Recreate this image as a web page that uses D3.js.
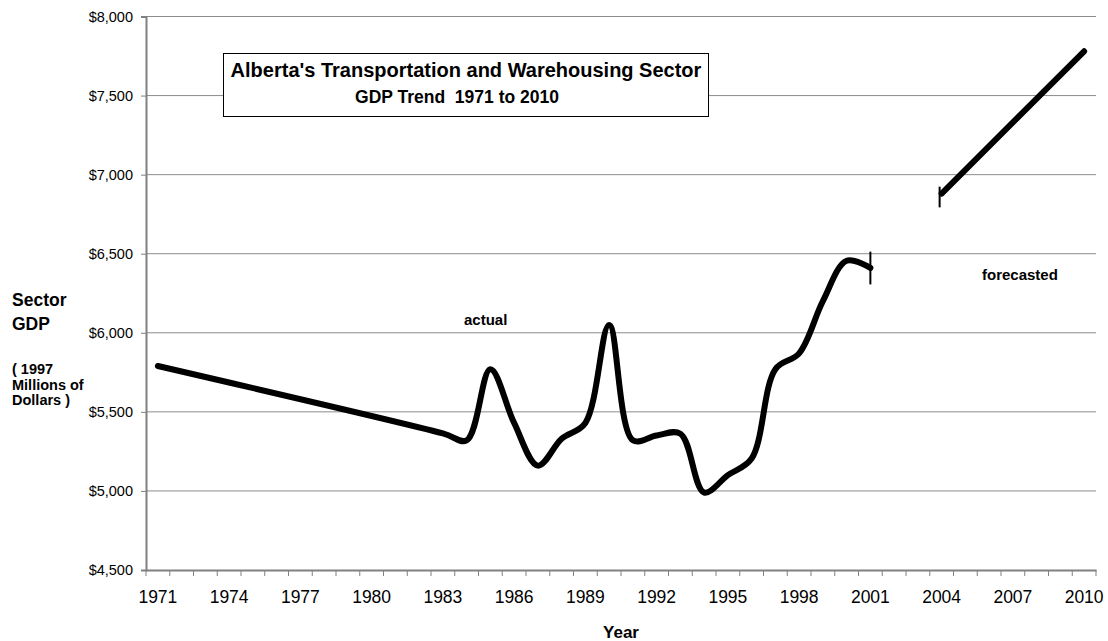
<!DOCTYPE html>
<html><head><meta charset="utf-8">
<script src="https://cdn.jsdelivr.net/npm/d3@7"></script>
<style>
body{margin:0;background:#fff}
text{font-family:Arial,"Liberation Sans",Helvetica,sans-serif;fill:#000}
</style>
</head><body>
<svg id="c" width="1108" height="641"></svg>
<script>
// ---- data ----
const categories = ["1971","1972","1973","1974","1975","1976","1977","1978","1979","1980",
  "1981","1982","1983","1984","1985","1986","1987","1988","1989","1990",
  "1991","1992","1993","1994","1995","1996","1997","1998","1999","2000",
  "2001","2002","2003","2004","2005","2006","2007","2008","2009","2010"];
const xTickLabels = ["1971","1974","1977","1980","1983","1986","1989","1992","1995","1998","2001","2004","2007","2010"];
const actualYears  = [1971, 1983, 1984, 1985, 1986, 1987, 1988, 1989, 1990, 1991, 1992, 1993, 1994, 1995, 1996, 1997, 1998, 1999, 2000, 2001];
const actualValues = [5790, 5364, 5320, 5770, 5430, 5160, 5330, 5430, 6050, 5320, 5350, 5362, 4990, 5100, 5205, 5770, 5870, 6200, 6455, 6410];
const forecastYears  = [2004, 2010];
const forecastValues = [6880, 7780];
const markerYears = [2001, 2004];
const markerLow   = [6306, 6793];
const markerHigh  = [6513, 6924];
const yTicks = [4500, 5000, 5500, 6000, 6500, 7000, 7500, 8000];

// ---- chart ----
const svg = d3.select("#c");
const x = d3.scaleBand().domain(categories).range([146, 1096]).padding(0);
const xc = yr => x(String(yr)) + x.bandwidth() / 2;
const y = d3.scaleLinear().domain([4500, 8000]).range([570, 16.5]);

// gridlines
svg.append("g").selectAll("line").data(yTicks.filter(d => d !== 4500)).join("line")
  .attr("x1", 146).attr("x2", 1096)
  .attr("y1", d => y(d)).attr("y2", d => y(d))
  .attr("stroke", "#8c8c8c").attr("stroke-width", 1);

// y axis
const yAxis = svg.append("g").attr("transform", "translate(146,0)")
  .call(d3.axisLeft(y).tickValues(yTicks).tickSize(5).tickPadding(8)
    .tickFormat(d => "$" + d3.format(",")(d)));
yAxis.select(".domain").attr("stroke", "#808080").attr("stroke-width", 2);
yAxis.selectAll(".tick line").attr("stroke", "#808080");
yAxis.selectAll("text").style("font-size", "14.5px").attr("fill", "#000");

// x axis: labels at centres, ticks at category boundaries
const xAxis = svg.append("g").attr("transform", "translate(0,570)")
  .call(d3.axisBottom(x).tickValues(xTickLabels).tickSize(0).tickPadding(21));
xAxis.select(".domain").attr("stroke", "#808080").attr("stroke-width", 2);
xAxis.selectAll("text").style("font-size", "17.5px").attr("fill", "#000");
svg.append("g").selectAll("line").data(categories.concat(["end"])).join("line")
  .attr("x1", d => d === "end" ? 1096 : x(d)).attr("x2", d => d === "end" ? 1096 : x(d))
  .attr("y1", 570).attr("y2", 576)
  .attr("stroke", "#808080").attr("stroke-width", 1);

// series
const pts = actualYears.map((yr, i) => [yr, actualValues[i]]);
const linLine = d3.line().x(d => xc(d[0])).y(d => y(d[1]));
const smoothLine = d3.line().x(d => xc(d[0])).y(d => y(d[1])).curve(d3.curveCatmullRom.alpha(0.5));
const styleLine = p => p.attr("fill", "none").attr("stroke", "#000")
  .attr("stroke-width", 6).attr("stroke-linecap", "round").attr("stroke-linejoin", "round");
svg.append("path").datum(pts).attr("d", smoothLine).call(styleLine);
svg.append("path").datum(forecastYears.map((yr, i) => [yr, forecastValues[i]]))
  .attr("d", linLine).call(styleLine);

// end markers
svg.append("g").selectAll("line").data(markerYears).join("line")
  .attr("x1", (d, i) => xc(d) - (i === 1 ? 2 : 0)).attr("x2", (d, i) => xc(d) - (i === 1 ? 2 : 0))
  .attr("y1", (d, i) => y(markerLow[i])).attr("y2", (d, i) => y(markerHigh[i]))
  .attr("stroke", "#000").attr("stroke-width", 2);

// title box
svg.append("rect").attr("x", 223.5).attr("y", 53.5).attr("width", 485).attr("height", 63)
  .attr("fill", "#fff").attr("stroke", "#000").attr("stroke-width", 1);
svg.append("text").attr("x", 466).attr("y", 77).attr("text-anchor", "middle")
  .style("font-size", "20px").style("font-weight", "bold")
  .text("Alberta's Transportation and Warehousing Sector");
svg.append("text").attr("x", 457).attr("y", 103).attr("text-anchor", "middle")
  .style("font-size", "17.5px").style("font-weight", "bold").style("white-space", "pre")
  .text("GDP Trend  1971 to 2010");

// annotations
svg.append("text").attr("x", 464).attr("y", 325).style("font-size", "15px").style("font-weight", "bold").text("actual");
svg.append("text").attr("x", 982).attr("y", 280).style("font-size", "15px").style("font-weight", "bold").text("forecasted");

// axis titles
svg.append("text").attr("x", 621).attr("y", 638).attr("text-anchor", "middle")
  .style("font-size", "17px").style("font-weight", "bold").text("Year");
const leftBig = [["Sector", 306], ["GDP", 329.5]];
leftBig.forEach(([t, yy]) => svg.append("text").attr("x", 12).attr("y", yy)
  .style("font-size", "17.5px").style("font-weight", "bold").text(t));
const leftSmall = [["( 1997", 374], ["Millions of", 389.5], ["Dollars )", 405]];
leftSmall.forEach(([t, yy]) => svg.append("text").attr("x", 12).attr("y", yy)
  .style("font-size", "14.5px").style("font-weight", "bold").style("white-space", "pre").text(t));
</script>
</body></html>
